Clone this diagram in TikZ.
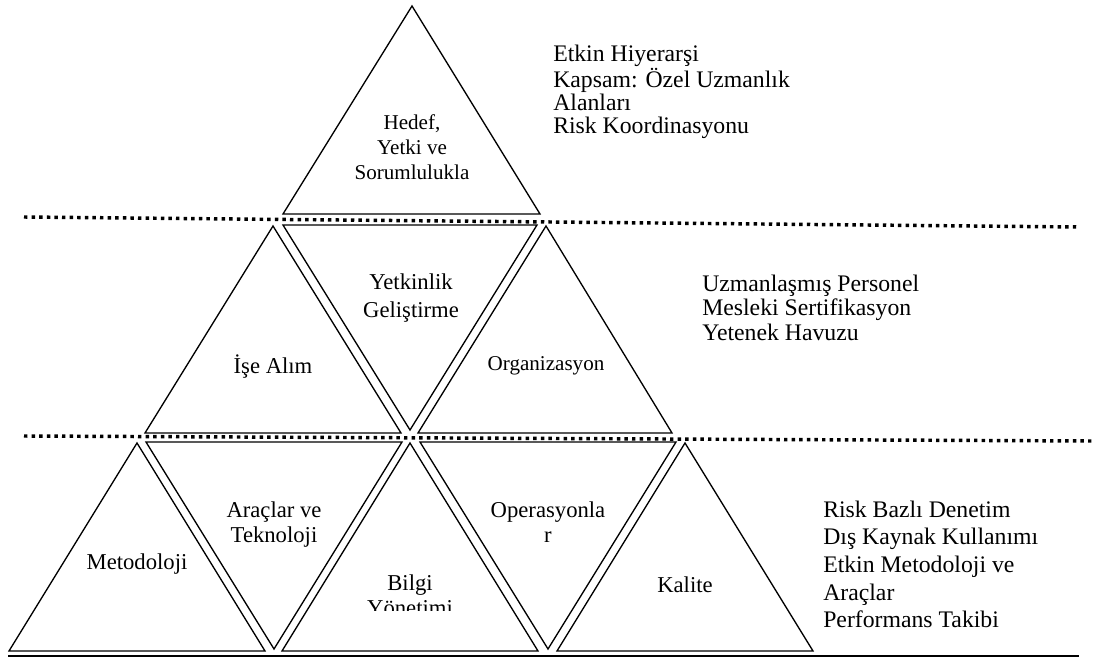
\documentclass[tikz,border=0pt]{standalone}
\usepackage{fontspec}
\setmainfont{Liberation Serif}
\newcommand\clines[1]{\vtop{\halign{\hfil##\hfil\cr#1\crcr}}}
\newcommand\llines[1]{\vtop{\halign{##\hfil\cr#1\crcr}}}
\begin{document}
\begin{tikzpicture}[x=0.75pt,y=-0.75pt,
  tri/.style={draw=black,line width=1pt,line join=miter},
  dotline/.style={draw=black,line width=2.6pt,dash pattern=on 2.6pt off 3.1pt},
  bigtxt/.style={inner sep=0pt,anchor=base,font=\fontsize{17}{18.75}\selectfont},
  smalltxt/.style={inner sep=0pt,anchor=base,font=\fontsize{15.8}{18.5}\selectfont},
  sidetxt/.style={inner sep=0pt,anchor=base west,font=\fontsize{17.8}{#1}\selectfont},
  sidetxt/.default=18pt]
\useasboundingbox (0,0) rectangle (1098,659);
% top
\draw[tri] (412,6) -- (540,214) -- (283,214) -- cycle;
% middle row
\draw[tri] (273,226) -- (401,433) -- (145,433) -- cycle;
\draw[tri] (283,225) -- (537,225) -- (410,430) -- cycle;
\draw[tri] (546,226) -- (672,433) -- (418,433) -- cycle;
% bottom row
\draw[tri] (137,443) -- (265,651) -- (9,651) -- cycle;
\draw[tri] (146,442) -- (402,442) -- (274,649) -- cycle;
\draw[tri] (410,443) -- (538,651) -- (282,651) -- cycle;
\draw[tri] (420,442) -- (676,442) -- (548,649) -- cycle;
\draw[tri] (685,443) -- (813,651) -- (557,651) -- cycle;
% dotted separators
\coordinate (d1a) at (24,217); \coordinate (d1b) at (1078,227);
\coordinate (d2a) at (24,436); \coordinate (d2b) at (1092,441);
\draw[dotline] (d1a) -- (d1b);
\draw[dotline] (d2a) -- (d2b);
% base line
\coordinate (bla) at (8,656); \coordinate (blb) at (1079,656);
\draw[line width=1.2pt] (bla) -- (blb);
% labels
\node[smalltxt] (hedef) at (412,130) {\clines{Hedef,\cr Yetki ve\cr Sorumlulukla}};
\node[bigtxt,font=\fontsize{17}{21}\selectfont] (yetkin) at (411,289) {\clines{Yetkinlik\cr Geliştirme}};
\node[bigtxt] (ise) at (273,373) {İşe Alım};
\node[smalltxt] (org) at (546,370) {Organizasyon};
\node[bigtxt] (metod) at (137,569) {Metodoloji};
\node[bigtxt] (arac) at (274,517) {\clines{Araçlar ve\cr Teknoloji}};
\begin{scope}
\clip (282,450) rectangle (538,610);
\node[bigtxt] (bilgi) at (410,590) {\clines{Bilgi\cr Yönetimi}};
\end{scope}
\node[bigtxt] (oper) at (548,517) {\clines{Operasyonla\cr r}};
\node[bigtxt] (kalite) at (685,592) {Kalite};
% side texts
\node[sidetxt=17pt] (s1) at (553,62) {\llines{Etkin Hiyerarşi\cr Kapsam: Özel Uzmanlık\cr Alanları\cr Risk Koordinasyonu}};
\node[sidetxt=18.4pt] (s2) at (702,291) {\llines{Uzmanlaşmış Personel\cr Mesleki Sertifikasyon\cr Yetenek Havuzu}};
\node[sidetxt=20.8pt] (s3) at (823,517) {\llines{Risk Bazlı Denetim\cr Dış Kaynak Kullanımı\cr Etkin Metodoloji ve\cr Araçlar\cr Performans Takibi}};
\end{tikzpicture}
\end{document}
